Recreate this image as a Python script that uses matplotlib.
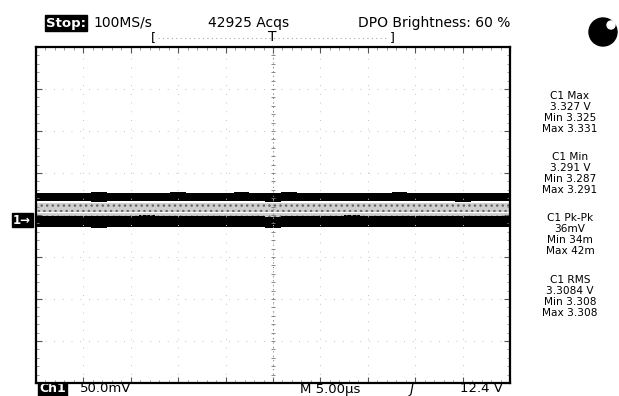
import numpy as np
import matplotlib
matplotlib.use("Agg")
import matplotlib.pyplot as plt
from matplotlib.patches import Circle, Rectangle

# scope settings
volts_per_div = 0.05
time_per_div = 5.0  # us
v_center = 3.303

# trace envelopes (V)
t = np.linspace(-25, 25, 31)
upper_top = [3.3292,3.3297,3.3289,3.3294,3.3301,3.3288,3.3293,3.3296,3.3290,3.3304,3.3291,
             3.3295,3.3289,3.3298,3.3291,3.3294,3.3306,3.3290,3.3293,3.3297,3.3289,3.3295,
             3.3291,3.3299,3.3292,3.3288,3.3296,3.3293,3.3290,3.3297,3.3292]
upper_bot = [3.3196,3.3192,3.3198,3.3194,3.3190,3.3197,3.3193,3.3199,3.3195,3.3191,3.3196,
             3.3193,3.3198,3.3192,3.3195,3.3190,3.3197,3.3194,3.3199,3.3193,3.3196,3.3191,
             3.3195,3.3198,3.3192,3.3196,3.3194,3.3190,3.3197,3.3193,3.3195]
lower_top = [3.3021,3.3016,3.3024,3.3018,3.3022,3.3015,3.3020,3.3025,3.3017,3.3021,3.3019,
             3.3023,3.3016,3.3020,3.3024,3.3012,3.3019,3.3022,3.3017,3.3021,3.3025,3.3018,
             3.3020,3.3016,3.3023,3.3019,3.3021,3.3017,3.3024,3.3020,3.3018]
lower_bot = [3.2889,3.2883,3.2891,3.2886,3.2880,3.2888,3.2884,3.2890,3.2885,3.2882,3.2889,
             3.2886,3.2892,3.2884,3.2887,3.2875,3.2888,3.2885,3.2890,3.2883,3.2887,3.2891,
             3.2884,3.2888,3.2882,3.2889,3.2886,3.2890,3.2884,3.2887,3.2889]
gray_top = 3.3172
white_line = 3.3066

meas_blocks = [
    ["C1 Max", "3.327 V", "Min 3.325", "Max 3.331"],
    ["C1 Min", "3.291 V", "Min 3.287", "Max 3.291"],
    ["C1 Pk-Pk", "36mV", "Min 34m", "Max 42m"],
    ["C1 RMS", "3.3084 V", "Min 3.308", "Max 3.308"],
]
meas_y = [96, 157, 218, 280]

fig = plt.figure(figsize=(6.19, 3.96), dpi=100)
W, H = 619, 396

# overlay in pixel coords for screen decorations
ov = fig.add_axes([0, 0, 1, 1])
ov.set_xlim(0, W)
ov.set_ylim(H, 0)
ov.axis("off")

ax = fig.add_axes([36/W, 1-383/H, 474/W, 336/H])
ax.set_xlim(-5*time_per_div, 5*time_per_div)
ax.set_ylim(v_center-4*volts_per_div, v_center+4*volts_per_div)
ax.set_xticks(np.arange(-5, 6)*time_per_div)
ax.set_yticks(v_center+np.arange(-4, 5)*volts_per_div)
ax.set_xticks(np.arange(-25, 25.01, 1.0), minor=True)
ax.set_yticks(v_center+np.arange(-4, 4.01, 0.2)*volts_per_div, minor=True)
ax.set_xticklabels([])
ax.set_yticklabels([])
ax.tick_params(which="major", direction="in", length=4, width=0.8, top=True, right=True, color="#555555")
ax.tick_params(which="minor", direction="in", length=2, width=0.6, top=True, right=True, color="#888888")
ax.grid(True, which="major", color="#c4c4c4", lw=0.7, linestyle=(0, (1, 8)))
for s in ax.spines.values():
    s.set_linewidth(1.6)
    s.set_color("black")

# center graticule lines
ax.axvline(0, color="#888888", lw=0.8, linestyle=(0, (1, 3)))
ax.axhline(v_center, color="#aaaaaa", lw=0.6, linestyle=(0, (1, 5)))
mx = np.arange(-25, 25.01, 1.0)
ax.plot(mx, np.full_like(mx, v_center - 4*volts_per_div), "|", ms=0, color="#888888")
my = v_center+np.arange(-4, 4.01, 0.2)*volts_per_div
ax.plot(np.zeros_like(my), my, "_", ms=3, color="#777777", mew=0.6)

# the trace
ax.fill_between(t, upper_bot, upper_top, step="mid", color="black", lw=0)
ax.fill_between(t, lower_top, gray_top, step="mid", color="#cfcfcf", lw=0, hatch="...", edgecolor="#666666")
ax.fill_between(t, lower_bot, lower_top, step="mid", color="black", lw=0)
ax.axhline(white_line, color="white", lw=0.8)

# header
ov.text(46, 23, "Stop:", color="white", fontsize=9.5, fontweight="bold", va="center", ha="left",
        bbox=dict(boxstyle="square,pad=0.1", fc="black", ec="black"))
ov.text(93, 23, "100MS/s", fontsize=10, va="center", ha="left")
ov.text(208, 23, "42925 Acqs", fontsize=10, va="center", ha="left")
ov.text(358, 23, "DPO Brightness: 60 %", fontsize=10, va="center", ha="left")
ov.text(153, 38, "[", fontsize=9, va="center", ha="center")
ov.text(272, 37, "T", fontsize=10, va="center", ha="center")
ov.text(392, 38, "]", fontsize=9, va="center", ha="center")
ov.plot([158, 388], [38, 38], color="#aaaaaa", lw=0.8, linestyle=(0, (1, 3)))
ov.add_patch(Circle((603, 32), 14, color="black"))
ov.add_patch(Circle((611, 25), 4, color="white"))

# channel marker
ov.add_patch(Rectangle((12, 213), 21, 14, color="black"))
ov.text(22, 220, "1\u2192", color="white", fontsize=8.5, fontweight="bold", va="center", ha="center")

# measurements
for block, y0 in zip(meas_blocks, meas_y):
    for i, line in enumerate(block):
        ov.text(570, y0 + i*10.9, line, fontsize=7.6, va="center", ha="center")

# footer
ov.text(39, 389, "Ch1", color="white", fontsize=9, fontweight="bold", va="center", ha="left",
        bbox=dict(boxstyle="square,pad=0.1", fc="black", ec="black"))
ov.text(80, 389, "50.0mV", fontsize=9.5, va="center", ha="left")
ov.text(300, 389, "M 5.00\u00b5s", fontsize=9.5, va="center", ha="left")
ov.text(412, 389, "\u0283", fontsize=10, va="center", ha="center", style="italic")
ov.text(460, 389, "12.4 V", fontsize=9.5, va="center", ha="left")

fig.savefig("out.png", dpi=100)
